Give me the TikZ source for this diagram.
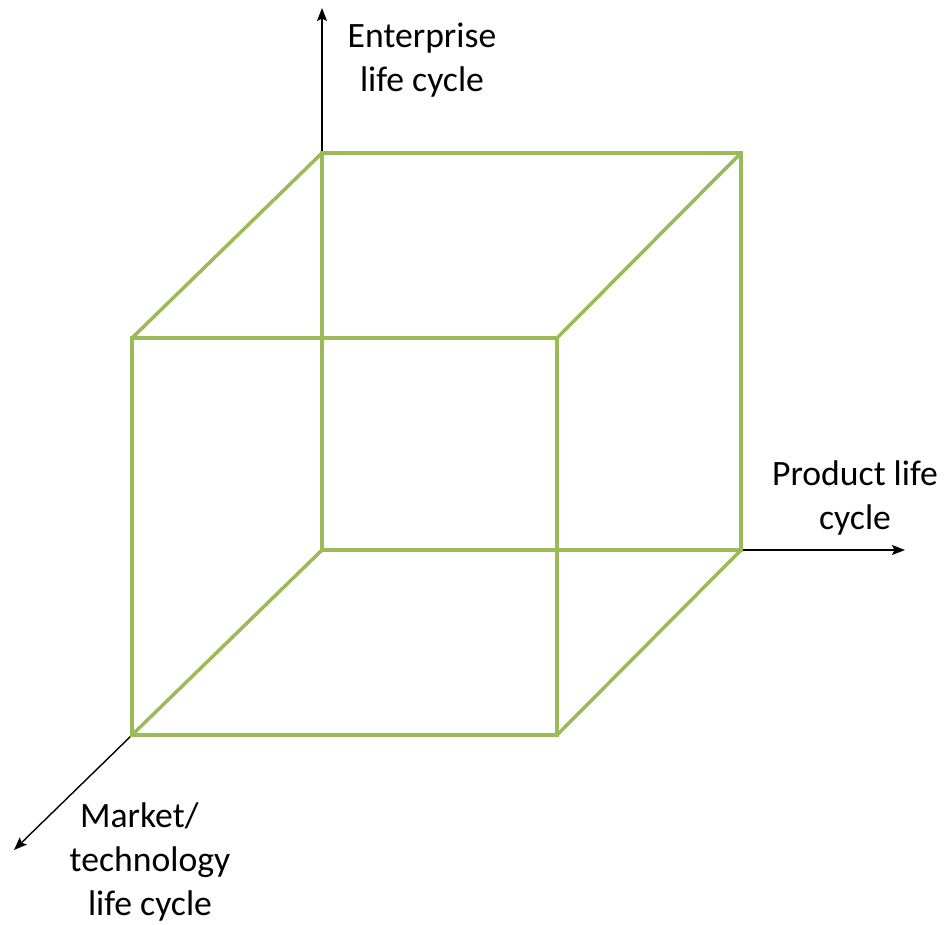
\documentclass[tikz,border=0pt]{standalone}
\usepackage{fontspec}
\setmainfont{Carlito}
\usetikzlibrary{arrows.meta,positioning}
\definecolor{olive}{RGB}{155,187,89}

\begin{document}
\begin{tikzpicture}[x=0.02cm, y=-0.02cm, font=\fontsize{20.3}{25}\selectfont]
\useasboundingbox (0,0) rectangle (946,924);
% cube corners
\coordinate (bt1) at (322,153);
\coordinate (bt2) at (741,153);
\coordinate (bb1) at (322,550);
\coordinate (bb2) at (741,550);
\coordinate (ft1) at (132,338);
\coordinate (ft2) at (557,338);
\coordinate (fb1) at (132,735);
\coordinate (fb2) at (557,735);
\coordinate (up) at (322,8);
\coordinate (right) at (905,550);
\coordinate (down) at (14,850);
% axes
\draw[-{Stealth[length=2.6mm, width=2mm, inset=0.5mm]}, line width=0.8pt] (bt1)--(up);
\draw[-{Stealth[length=2.6mm, width=2mm, inset=0.5mm]}, line width=0.8pt] (bb2)--(right);
\draw[-{Stealth[length=2.6mm, width=2mm, inset=0.5mm]}, line width=0.8pt] (fb1)--(down);
% cube
\draw[olive, line width=2pt] (bt1)--(bt2)--(bb2)--(bb1)--cycle;
\draw[olive, line width=2pt] (ft1)--(ft2)--(fb2)--(fb1)--cycle;
\draw[olive, line width=2pt] (bt1)--(ft1) (bt2)--(ft2) (bb1)--(fb1) (bb2)--(fb2);
% labels
\node[align=center] (ent) at (422,60) {Enterprise\\life cycle};
\node[align=center] (prod) at (855,498) {Product life\\cycle};
\node[align=center] (mkt) at (150,862) {Market/\kern0.6em\\technology\\life cycle};
\end{tikzpicture}
\end{document}
